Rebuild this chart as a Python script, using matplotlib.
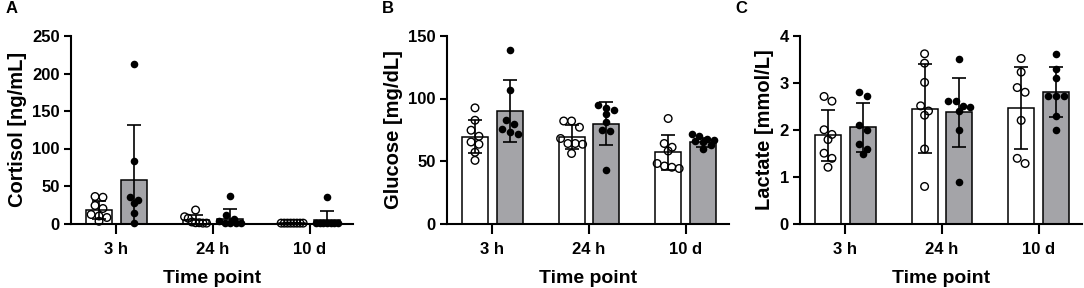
import numpy as np
import matplotlib.pyplot as plt

plt.rcParams['font.family'] = ['Liberation Sans', 'DejaVu Sans']
plt.rcParams['font.weight'] = 'bold'

groups = ['3 h', '24 h', '10 d']

# cortisol [ng/mL]
cortisol_open = [[36, 35, 24, 20, 12, 10, 8, 3],
                 [18, 9, 7, 2, 1, 1, 0.5, 0.5],
                 [0.5, 0.5, 0.5, 0.5, 0.5, 0.5, 0.5, 0.5]]
cortisol_fill = [[213, 83, 36, 31, 27, 14, 1],
                 [37, 12, 6, 3, 1, 0.5, 0.5, 0.5],
                 [35, 0.5, 0.5, 0.5, 0.5, 0.5, 0.5, 0.5]]
cortisol_mean_open = [18.5, 5, 0.5]
cortisol_sd_open = [12, 6, 0.3]
cortisol_mean_fill = [58, 6, 4.5]
cortisol_sd_fill = [73, 14, 12]

# glucose [mg/dL]
glucose_open = [[92.5, 82.6, 74.6, 69.8, 65.2, 63.4, 57, 50.5],
                [82, 82, 77, 68, 64, 64, 63.4, 56],
                [84, 64, 61, 58, 48, 46, 45, 44]]
glucose_fill = [[139, 107, 83, 80, 76, 73, 72],
                [94.6, 92.5, 90.6, 88, 81.5, 74.6, 73.8, 42.5],
                [72, 70, 68, 67, 66, 65, 63, 60]]
glucose_mean_open = [69.5, 69.5, 57]
glucose_sd_open = [13, 9.5, 14]
glucose_mean_fill = [90, 80, 65]
glucose_sd_fill = [24.5, 17, 3.5]

# lactate [mmol/L]
lactate_open = [[2.71, 2.61, 2.0, 1.9, 1.79, 1.5, 1.39, 1.2],
                [3.62, 3.42, 3.01, 2.51, 2.40, 2.31, 1.59, 0.79],
                [3.52, 3.23, 2.9, 2.8, 2.2, 1.39, 1.28]]
lactate_fill = [[2.8, 2.71, 2.1, 2.0, 1.7, 1.59, 1.48],
                [3.52, 2.61, 2.61, 2.51, 2.49, 2.4, 2.0, 0.89],
                [3.62, 3.3, 3.11, 2.71, 2.71, 2.71, 2.29, 2.0]]
lactate_mean_open = [1.88, 2.45, 2.47]
lactate_sd_open = [0.55, 0.95, 0.87]
lactate_mean_fill = [2.05, 2.37, 2.80]
lactate_sd_fill = [0.53, 0.73, 0.53]

W, H = 1084, 288
fig = plt.figure(figsize=(W / 100, H / 100), dpi=100)

gray = '#a4a4a8'
bw = 0.27      # bar width
off = 0.18     # bar offset from tick
xlo, xhi = -0.47, 2.45
ax_w = 282     # px
px_per_x = ax_w / (xhi - xlo)
ax_top, ax_bot = 36, 223.5
d_px = 7.5     # marker diameter px
max_spread = 22.0


def swarm(vals, ylim):
    # spread points sideways in rows (pixel space), like a scatter dot plot
    px_per_y = (ax_bot - ax_top) / ylim
    order = np.argsort(vals)[::-1]
    v = np.asarray(vals, float)
    xo = np.zeros(len(v))
    rows, cur = [], [order[0]]
    for i in order[1:]:
        if (v[cur[0]] - v[i]) * px_per_y < d_px * 0.9:
            cur.append(i)
        else:
            rows.append(cur)
            cur = [i]
    rows.append(cur)
    for r in rows:
        n = len(r)
        if n == 1:
            continue
        sp = min(d_px * 1.05, max_spread / (n - 1))
        pos = (np.arange(n) - (n - 1) / 2) * sp
        for j, i in enumerate(r):
            xo[i] = pos[j] / px_per_x
    return xo


def panel(left, letter, ylabel, ylim, yticks, p_open, p_fill, m_open, s_open, m_fill, s_fill):
    ax = fig.add_axes([left / W, 1 - ax_bot / H, ax_w / W, (ax_bot - ax_top) / H])
    x = np.arange(len(groups))
    ax.bar(x - off, m_open, bw, color='white', edgecolor='black', linewidth=1.1, zorder=2)
    ax.bar(x + off, m_fill, bw, color=gray, edgecolor='black', linewidth=1.1, zorder=2)
    for i in range(len(groups)):
        xo = swarm(p_open[i], ylim)
        ax.scatter(x[i] - off + xo, p_open[i], s=30, facecolor='none', edgecolor='black',
                   linewidth=1.0, zorder=3, clip_on=False)
        xf = swarm(p_fill[i], ylim)
        ax.scatter(x[i] + off + xf, p_fill[i], s=30, color='black', linewidth=0, zorder=3,
                   clip_on=False)
    ax.errorbar(x - off, m_open, yerr=s_open, fmt='none', ecolor='black', elinewidth=1.2,
                capsize=5, capthick=1.2, zorder=4)
    ax.errorbar(x + off, m_fill, yerr=s_fill, fmt='none', ecolor='black', elinewidth=1.2,
                capsize=5, capthick=1.2, zorder=4)
    ax.set_xlim(xlo, xhi)
    ax.set_ylim(0, ylim)
    ax.set_yticks(yticks)
    ax.set_xticks(x)
    ax.set_xticklabels(groups)
    for sp in ['top', 'right']:
        ax.spines[sp].set_visible(False)
    for sp in ['left', 'bottom']:
        ax.spines[sp].set_linewidth(1.5)
    ax.tick_params(axis='both', width=1.5, labelsize=12, direction='out')
    ax.tick_params(axis='x', length=7, pad=6)
    ax.tick_params(axis='y', length=5, pad=3)
    ax.set_ylabel(ylabel, fontsize=14.5, fontweight='bold', labelpad=4)
    ax.set_xlabel('Time point', fontsize=14, fontweight='bold', labelpad=10)
    fig.text((left - 65) / W, 1 - 13 / H, letter, fontsize=12, fontweight='bold')
    return ax


panel(71, 'A', 'Cortisol [ng/mL]', 250, [0, 50, 100, 150, 200, 250],
      cortisol_open, cortisol_fill, cortisol_mean_open, cortisol_sd_open,
      cortisol_mean_fill, cortisol_sd_fill)
panel(447, 'B', 'Glucose [mg/dL]', 150, [0, 50, 100, 150],
      glucose_open, glucose_fill, glucose_mean_open, glucose_sd_open,
      glucose_mean_fill, glucose_sd_fill)
panel(800, 'C', 'Lactate [mmol/L]', 4, [0, 1, 2, 3, 4],
      lactate_open, lactate_fill, lactate_mean_open, lactate_sd_open,
      lactate_mean_fill, lactate_sd_fill)

fig.savefig('out.png', dpi=100)
